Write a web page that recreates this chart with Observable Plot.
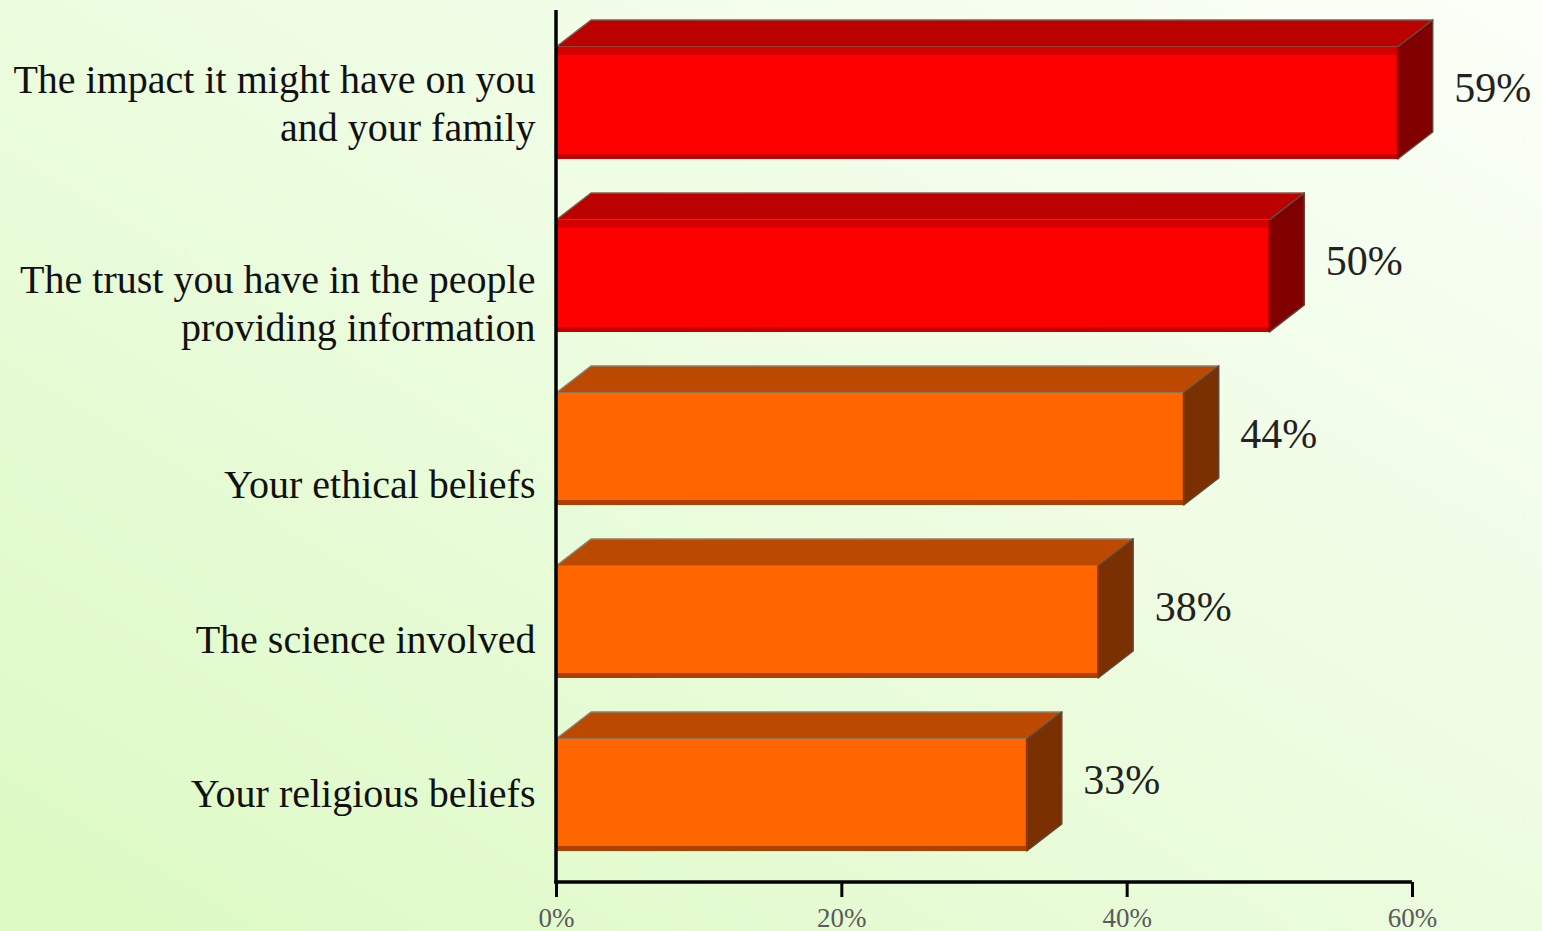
<!DOCTYPE html>
<html>
<head>
<meta charset="utf-8">
<script src="https://cdn.jsdelivr.net/npm/d3@7"></script>
<script src="https://cdn.jsdelivr.net/npm/@observablehq/plot@0.6"></script>
<style>
  html, body { margin: 0; padding: 0; }
  body {
    width: 1542px; height: 931px; overflow: hidden;
    background: linear-gradient(to top right, #dcfac2 0%, #eafcdc 45%, #fbfff8 100%);
  }
  #chart svg { display: block; }
</style>
</head>
<body>
<div id="chart"></div>
<script>
// ---- data ----
const categories = [
  "The impact it might have on you\nand your family",
  "The trust you have in the people\nproviding information",
  "Your ethical beliefs",
  "The science involved",
  "Your religious beliefs"
];
const values = [59, 50, 44, 38, 33];
const groups = ["top", "top", "rest", "rest", "rest"];
const xTicks = [0, 20, 40, 60];

// ---- styles / layout ----
const palette = {
  top:  {front: "#ff0000", topFace: "#bb0000", side: "#800000", band: "#c40000", upper: "#d40000", edge: "#8a5a50", rim: "#a00000"},
  rest: {front: "#ff6600", topFace: "#bb4a00", side: "#7a3000", band: "#b04000", upper: "#ff6600", edge: "#8f7f70", rim: "#8a3a00"}
};
const labelNudge = [-2, 25, 33, 15, -4]; // vertical offset of category labels (px)
const DX = 35, DY = -27;
const serif = "'Liberation Serif', 'Times New Roman', serif";

const data = categories.map((c, i) => ({cat: c, value: values[i], group: groups[i]}));

function bars3d(rows) {
  return Plot.barX(rows, {
    x1: 0, x2: "value", y: "cat",
    render(index, scales, vals, dims) {
      const ys = scales.y;
      const bw = typeof ys.bandwidth === "function" ? ys.bandwidth() : (ys.bandwidth ?? scales.scales.y.bandwidth);
      const g = d3.create("svg:g");
      for (const i of index) {
        const p = palette[rows[i].group];
        const x0 = vals.x1[i], x1 = vals.x2[i];
        const y0 = vals.y[i], y1 = y0 + bw;
        g.append("polygon")
          .attr("points", [[x0, y0], [x1, y0], [x1 + DX, y0 + DY], [x0 + DX, y0 + DY]].join(" "))
          .attr("fill", p.topFace).attr("stroke", p.edge).attr("stroke-width", 1.5).attr("stroke-linejoin", "round");
        g.append("polygon")
          .attr("points", [[x1, y0], [x1 + DX, y0 + DY], [x1 + DX, y1 + DY], [x1, y1]].join(" "))
          .attr("fill", p.side).attr("stroke", "#5a4a40").attr("stroke-width", 1.5).attr("stroke-linejoin", "round");
        g.append("rect").attr("x", x0).attr("y", y0).attr("width", x1 - x0).attr("height", bw).attr("fill", p.front);
        g.append("rect").attr("x", x0).attr("y", y0).attr("width", x1 - x0).attr("height", 8).attr("fill", p.upper);
        g.append("rect").attr("x", x0).attr("y", y1 - 5).attr("width", x1 - x0).attr("height", 5).attr("fill", p.band);
        g.append("line").attr("x1", x1).attr("x2", x1).attr("y1", y0).attr("y2", y1)
          .attr("stroke", p.rim).attr("stroke-width", 2);
      }
      return g.node();
    }
  });
}

function axisLines() {
  return Plot.ruleX([0], {
    x: d => d,
    render(index, scales, vals, dims) {
      const g = d3.create("svg:g").attr("stroke", "#000").attr("stroke-width", 3.5);
      const xa = scales.x(0), xb = scales.x(60);
      const yb = dims.height - dims.marginBottom;
      g.append("line").attr("x1", xa).attr("x2", xa).attr("y1", dims.marginTop).attr("y2", yb + 1.5);
      g.append("line").attr("x1", xa - 1.75).attr("x2", xb).attr("y1", yb).attr("y2", yb);
      return g.node();
    }
  });
}

const labelMarks = data.map((d, i) => Plot.text([d], {
  x: 0, y: "cat", text: "cat", textAnchor: "end", dx: -21, dy: labelNudge[i],
  fontSize: 40, lineHeight: 1.2, fontFamily: serif, fill: "#111"
}));

const chart = Plot.plot({
  width: 1542,
  height: 931,
  marginLeft: 556,
  marginRight: 130,
  marginTop: 10,
  marginBottom: 49,
  style: {background: "transparent", overflow: "visible"},
  x: {domain: [0, 60], axis: null},
  y: {domain: categories, range: [10, 887], paddingInner: 0.353, paddingOuter: 0.21, axis: null},
  marks: [
    bars3d(data),
    axisLines(),
    Plot.axisX(xTicks, {
      tickSize: 15, tickPadding: 10, strokeWidth: 3, stroke: "#000",
      tickFormat: d => d + "%", fontSize: 27, fontFamily: serif, fill: "#5a5a5a", label: null
    }),
    ...labelMarks,
    Plot.text(data, {
      x: "value", y: "cat", text: d => d.value + "%", textAnchor: "start", dx: 56, dy: -15,
      fontSize: 42, fontFamily: serif, fill: "#222"
    })
  ]
});
document.getElementById("chart").append(chart);
</script>
</body>
</html>
